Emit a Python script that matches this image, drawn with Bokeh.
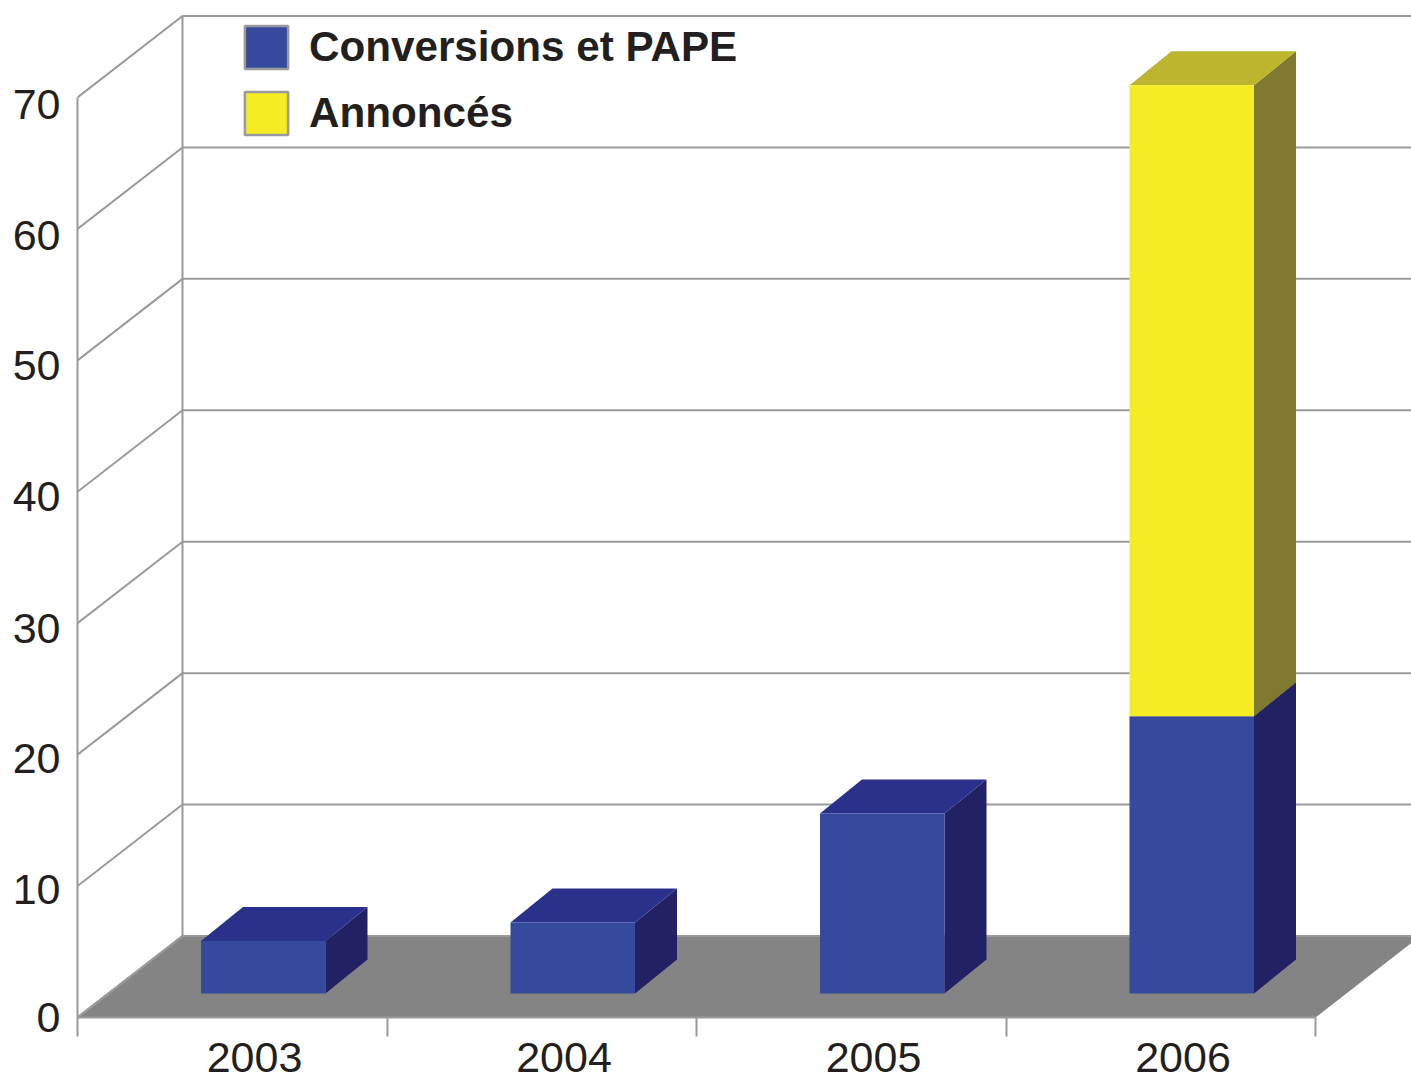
from bokeh.plotting import figure
from bokeh.embed import file_html
from bokeh.resources import INLINE
from bokeh.models import FixedTicker, Range1d, Legend, LegendItem

# ---- data ----
years = ["2003", "2004", "2005", "2006"]
conversions = [4.0, 5.4, 13.7, 21.1]
annonces = [0.0, 0.0, 0.0, 48.0]
y_ticks = [0, 10, 20, 30, 40, 50, 60, 70]
legend_labels = ["Conversions et PAPE", "Annoncés"]

# ---- style ----
BLUE = ("#35499d", "#2a318b", "#212163")      # front, top, side
YELLOW = ("#f5ec23", "#bdb52e", "#7f7a2f")
GRID = "#9a9a9e"
FLOOR = "#848484"
TEXT = "#231f20"
PX_X = 309.5      # pixels per category
PX_Y = 13.143     # pixels per value unit
WALL_DX, WALL_DY = 105 / PX_X, 81.5 / PX_Y
BAR_DX, BAR_DY = 42 / PX_X, 34 / PX_Y
BAR_X0, BAR_W = 123.5 / PX_X, 124.5 / PX_X
BAR_BASE = 24 / PX_Y
W, H = 1411, 1081
LEFT, BOTTOM = 77, 64
Y_LABEL_NUDGE_PX = [0, 3.4, 3.9, 5.3, 4.7, 5.1, 6.6, 7]

x_end = (W - LEFT) / PX_X
y_end = (H - BOTTOM) / PX_Y

p = figure(width=W, height=H, output_backend="svg", toolbar_location=None,
           x_range=Range1d(0, x_end), y_range=Range1d(0, y_end),
           min_border_left=LEFT, min_border_bottom=BOTTOM, min_border_top=0, min_border_right=0,
           x_axis_location="below", y_axis_location="left")
p.outline_line_color = None
p.grid.visible = False
p.background_fill_color = "white"

# Floor
n = len(years)
p.patch([0, WALL_DX, n + WALL_DX, n], [0, WALL_DY, WALL_DY, 0],
        fill_color=FLOOR, line_color=None)
p.line([0, WALL_DX], [0, WALL_DY], line_color=GRID, line_width=2)

# Wall: diagonals and back gridlines
for t in y_ticks:
    p.line([0, WALL_DX, x_end], [t, t + WALL_DY, t + WALL_DY], line_color=GRID, line_width=2)
p.line([WALL_DX, WALL_DX], [WALL_DY, y_ticks[-1] + WALL_DY], line_color=GRID, line_width=2)


def box(i, lo, hi, colors):
    x0 = i + BAR_X0
    x1 = x0 + BAR_W
    y0 = BAR_BASE + lo
    y1 = BAR_BASE + hi
    p.patch([x1, x1 + BAR_DX, x1 + BAR_DX, x1], [y0, y0 + BAR_DY, y1 + BAR_DY, y1],
            fill_color=colors[2], line_color=None)
    p.patch([x0, x1, x1 + BAR_DX, x0 + BAR_DX], [y1, y1, y1 + BAR_DY, y1 + BAR_DY],
            fill_color=colors[1], line_color=None)
    p.quad(left=[x0], right=[x1], bottom=[y0], top=[y1], fill_color=colors[0], line_color=None)


for i in range(n):
    box(i, 0, conversions[i], BLUE)
    if annonces[i] > 0:
        box(i, conversions[i], conversions[i] + annonces[i], YELLOW)

# Axes
xa = p.xaxis[0]
label_pos = [i + 177 / PX_X for i in range(n)]
xa.ticker = FixedTicker(ticks=label_pos, minor_ticks=list(range(n + 1)))
xa.major_label_overrides = {pos: y for pos, y in zip(label_pos, years)}
xa.major_tick_line_color = None
xa.major_tick_out = 0
xa.major_tick_in = 0
xa.minor_tick_line_color = GRID
xa.minor_tick_line_width = 2
xa.minor_tick_out = 19
xa.minor_tick_in = 0
xa.axis_line_color = GRID
xa.axis_line_width = 2
xa.bounds = (0, n)
xa.major_label_text_font = "Liberation Sans"
xa.major_label_text_font_size = "43px"
xa.major_label_text_color = TEXT
xa.major_label_standoff = 6

ya = p.yaxis[0]
y_label_pos = [t - d / PX_Y for t, d in zip(y_ticks, Y_LABEL_NUDGE_PX)]
ya.ticker = FixedTicker(ticks=y_label_pos)
ya.major_label_overrides = {pos: str(t) for pos, t in zip(y_label_pos, y_ticks)}
ya.major_tick_line_color = None
ya.minor_tick_line_color = None
ya.major_tick_out = 0
ya.major_tick_in = 0
ya.axis_line_color = GRID
ya.axis_line_width = 2
ya.bounds = (0, y_ticks[-1])
ya.major_label_text_font = "Liberation Sans"
ya.major_label_text_font_size = "43px"
ya.major_label_text_color = TEXT
ya.major_label_standoff = 17

# Legend swatches: renderers lying outside the visible range
r1 = p.quad(left=[-2], right=[-1], bottom=[-2], top=[-1], fill_color=BLUE[0], line_color=GRID, line_width=2.5)
r2 = p.quad(left=[-2], right=[-1], bottom=[-2], top=[-1], fill_color=YELLOW[0], line_color=GRID, line_width=2.5)
legend = Legend(items=[LegendItem(label=legend_labels[0], renderers=[r1]),
                       LegendItem(label=legend_labels[1], renderers=[r2])],
                location=(162, 877), orientation="vertical",
                glyph_width=54, glyph_height=54, spacing=12, label_standoff=16,
                padding=0, margin=0, background_fill_alpha=0, border_line_color=None,
                label_text_font="Liberation Sans", label_text_font_style="bold",
                label_text_font_size="42.2px", label_text_color=TEXT, label_height=54)
p.add_layout(legend)

open("out.html", "w").write(file_html(p, INLINE))
